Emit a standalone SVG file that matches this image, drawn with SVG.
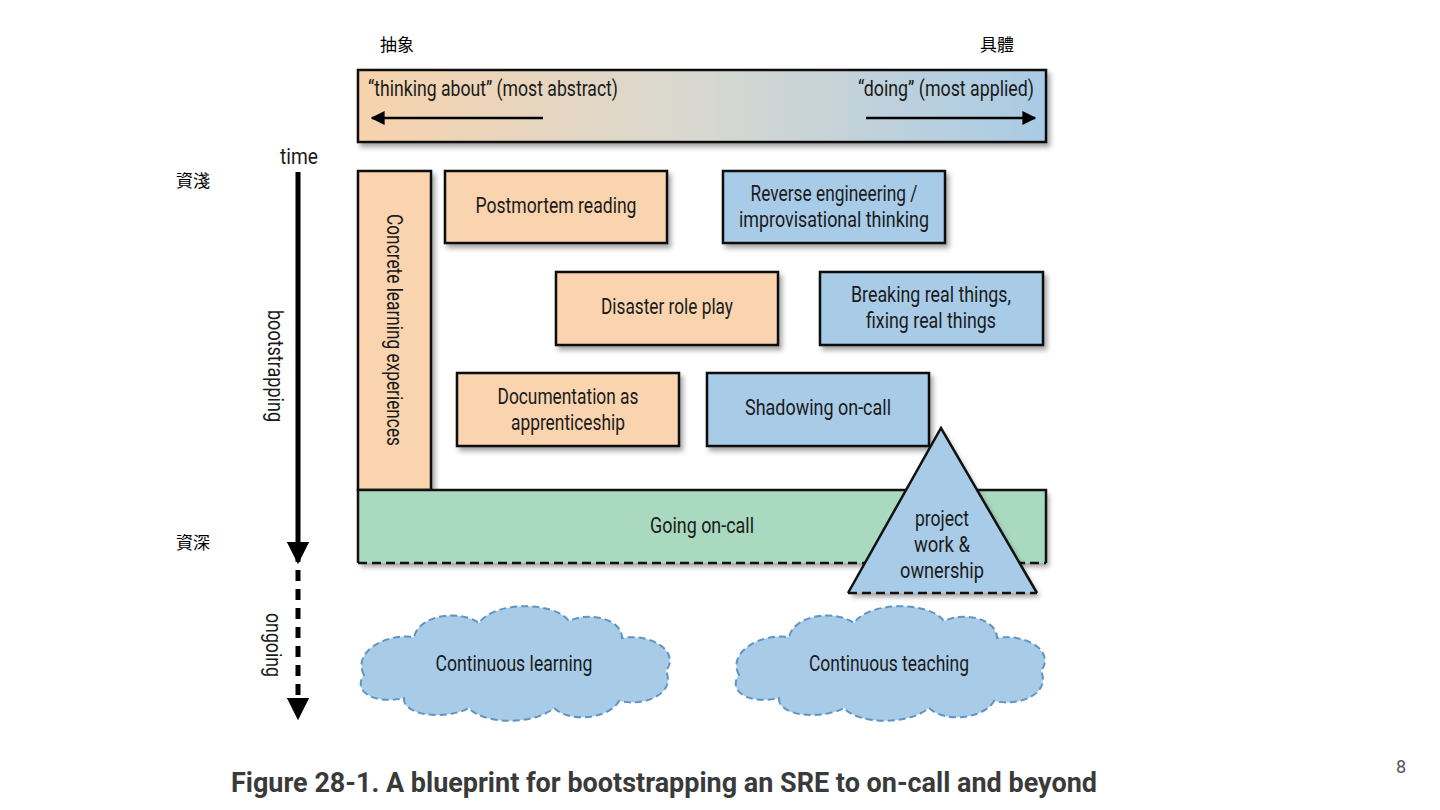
<svg xmlns="http://www.w3.org/2000/svg" width="1440" height="810" viewBox="0 0 1440 810">
<defs>
<linearGradient id="grad" x1="0" y1="0" x2="1" y2="0">
<stop offset="0" stop-color="#f8d3ad"/>
<stop offset="0.5" stop-color="#d7d8d0"/>
<stop offset="1" stop-color="#a9cbe6"/>
</linearGradient>
<filter id="sh" x="-10%" y="-10%" width="130%" height="140%">
<feDropShadow dx="3" dy="4" stdDeviation="2.5" flood-color="#000" flood-opacity="0.35"/>
</filter>
<marker id="ahb" viewBox="0 0 10 10" refX="9" refY="5" markerWidth="4.5" markerHeight="4.5" orient="auto">
<path d="M0,0 L10,5 L0,10 Z" fill="#000"/>
</marker>
<marker id="ahs" viewBox="0 0 10 10" refX="9" refY="5" markerWidth="5.6" markerHeight="5.6" orient="auto">
<path d="M0,0 L10,5 L0,10 Z" fill="#000"/>
</marker>
<path id="cloud" d="M -150,12 C -162,-10 -130,-30 -100,-26 C -95,-48 -55,-54 -35,-40 C -20,-62 40,-62 55,-42 C 75,-52 108,-44 108,-25 C 140,-30 166,-10 152,8 C 162,30 132,44 105,38 C 95,56 55,60 40,45 C 20,62 -30,62 -45,45 C -70,58 -112,52 -110,35 C -140,42 -162,28 -150,12 Z"/>
</defs>
<style>
.box{stroke:#111;stroke-width:2.5}
.peach{fill:#f9d4af}
.blue{fill:#a8cce8}
.green{fill:#a9d9bf}
.t{font-family:Roboto,"Liberation Sans",sans-serif;font-size:22.5px;fill:#1a1a1a;text-anchor:middle}
.cjk{font-family:"Noto Sans CJK TC","Noto Sans CJK SC",sans-serif;font-size:17px;fill:#000;text-anchor:middle}
.cloud{fill:#a8cce8;stroke:#5f94c4;stroke-width:2;stroke-dasharray:7 4}
</style>
<rect width="1440" height="810" fill="#fff"/>

<text class="cjk" x="397" y="51">抽象</text>
<text class="cjk" x="997" y="51">具體</text>
<text class="cjk" x="193" y="187">資淺</text>
<text class="cjk" x="193" y="549">資深</text>

<g id="scale">
<rect class="box" x="358" y="70" width="688" height="72" fill="url(#grad)" filter="url(#sh)"/>
<text class="t" x="368" y="96" style="text-anchor:start" textLength="250" lengthAdjust="spacingAndGlyphs">“thinking about” (most abstract)</text>
<text class="t" x="1034" y="96" style="text-anchor:end" textLength="176" lengthAdjust="spacingAndGlyphs">“doing” (most applied)</text>
</g>

<g id="connectors" stroke="#000" fill="none">
<line x1="543" y1="118" x2="372" y2="118" stroke-width="2.5" marker-end="url(#ahs)"/>
<line x1="866" y1="118" x2="1035" y2="118" stroke-width="2.5" marker-end="url(#ahs)"/>
<line x1="298" y1="172" x2="298" y2="562" stroke-width="5" marker-end="url(#ahb)"/>
<line x1="298" y1="570" x2="298" y2="718" stroke-width="5" stroke-dasharray="11 8" marker-end="url(#ahb)"/>
</g>

<text class="t" x="299" y="164" textLength="38" lengthAdjust="spacingAndGlyphs">time</text>
<text class="t" transform="translate(268,366) rotate(90)" textLength="112" lengthAdjust="spacingAndGlyphs">bootstrapping</text>
<text class="t" transform="translate(266,645) rotate(90)" textLength="64" lengthAdjust="spacingAndGlyphs">ongoing</text>

<g id="concrete">
<rect class="box peach" x="358" y="171" width="73" height="319" filter="url(#sh)"/>
<text class="t" transform="translate(387,330) rotate(90)" textLength="232" lengthAdjust="spacingAndGlyphs">Concrete learning experiences</text>
</g>

<g id="postmortem">
<rect class="box peach" x="445" y="171" width="222" height="72" filter="url(#sh)"/>
<text class="t" x="556" y="213" textLength="161" lengthAdjust="spacingAndGlyphs">Postmortem reading</text>
</g>

<g id="reverse">
<rect class="box blue" x="723" y="171" width="222" height="72" filter="url(#sh)"/>
<text class="t" x="834" y="201" textLength="167" lengthAdjust="spacingAndGlyphs">Reverse engineering /</text>
<text class="t" x="834" y="227" textLength="190" lengthAdjust="spacingAndGlyphs">improvisational thinking</text>
</g>

<g id="disaster">
<rect class="box peach" x="556" y="272" width="222" height="73" filter="url(#sh)"/>
<text class="t" x="667" y="314" textLength="132" lengthAdjust="spacingAndGlyphs">Disaster role play</text>
</g>

<g id="breaking">
<rect class="box blue" x="820" y="272" width="223" height="73" filter="url(#sh)"/>
<text class="t" x="931" y="302" textLength="160" lengthAdjust="spacingAndGlyphs">Breaking real things,</text>
<text class="t" x="931" y="328" textLength="130" lengthAdjust="spacingAndGlyphs">fixing real things</text>
</g>

<g id="documentation">
<rect class="box peach" x="457" y="373" width="222" height="73" filter="url(#sh)"/>
<text class="t" x="568" y="404" textLength="141" lengthAdjust="spacingAndGlyphs">Documentation as</text>
<text class="t" x="568" y="430" textLength="114" lengthAdjust="spacingAndGlyphs">apprenticeship</text>
</g>

<g id="shadowing">
<rect class="box blue" x="707" y="373" width="222" height="73" filter="url(#sh)"/>
<text class="t" x="818" y="415" textLength="146" lengthAdjust="spacingAndGlyphs">Shadowing on-call</text>
</g>

<g id="oncall">
<rect class="green" x="358" y="490" width="688" height="73" filter="url(#sh)"/>
<path d="M358,563 L358,490 L1046,490 L1046,563" fill="none" stroke="#111" stroke-width="2.5"/>
<line x1="358" y1="563" x2="1046" y2="563" stroke="#111" stroke-width="2.5" stroke-dasharray="9 5"/>
<text class="t" x="702" y="533" textLength="104" lengthAdjust="spacingAndGlyphs">Going on-call</text>
</g>

<g id="project">
<path d="M941,428 L1037,593 L848,593 Z" fill="#a8cce8" filter="url(#sh)"/>
<path d="M848,593 L941,428 L1037,593" fill="none" stroke="#111" stroke-width="2.5"/>
<line x1="848" y1="593" x2="1037" y2="593" stroke="#111" stroke-width="2.5" stroke-dasharray="9 5"/>
<text class="t" x="942" y="526" textLength="54" lengthAdjust="spacingAndGlyphs">project</text>
<text class="t" x="942" y="552" textLength="56" lengthAdjust="spacingAndGlyphs">work &amp;</text>
<text class="t" x="942" y="578" textLength="84" lengthAdjust="spacingAndGlyphs">ownership</text>
</g>

<g id="learning">
<use href="#cloud" class="cloud" transform="translate(514,663)"/>
<text class="t" x="514" y="671" textLength="157" lengthAdjust="spacingAndGlyphs">Continuous learning</text>
</g>

<g id="teaching">
<use href="#cloud" class="cloud" transform="translate(889,663)"/>
<text class="t" x="889" y="671" textLength="160" lengthAdjust="spacingAndGlyphs">Continuous teaching</text>
</g>

<text x="664" y="792" font-family="Roboto,'Liberation Sans',sans-serif" font-weight="bold" font-size="27" fill="#3a3a3a" text-anchor="middle" textLength="866" lengthAdjust="spacingAndGlyphs">Figure 28-1. A blueprint for bootstrapping an SRE to on-call and beyond</text>
<text x="1401" y="773" font-family="Roboto,'Liberation Sans',sans-serif" font-size="18" fill="#555" text-anchor="middle">8</text>
</svg>
